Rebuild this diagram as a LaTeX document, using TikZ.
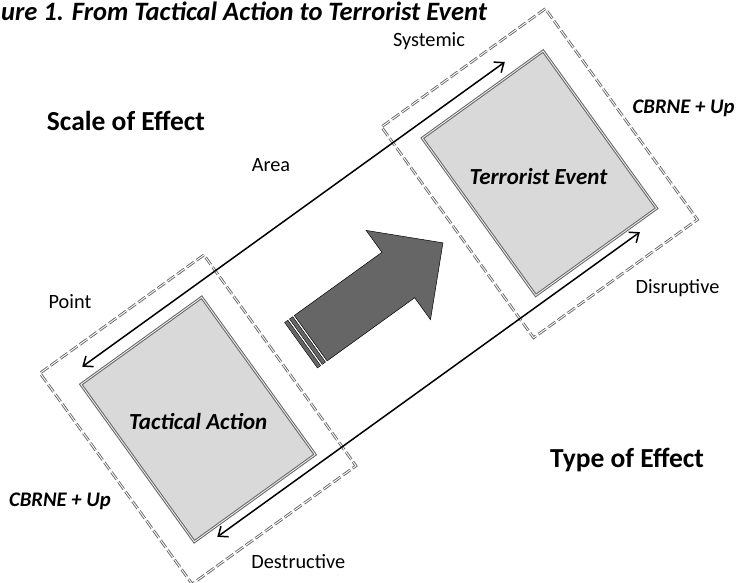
\documentclass[tikz,border=0pt]{standalone}
\usepackage{fontspec}
\setmainfont{Carlito}
\usepackage{tikz}
\usetikzlibrary{arrows.meta,positioning}

\begin{document}
\begin{tikzpicture}[x=1pt,y=1pt,
    box/.style={draw=black!60, double=white!92!black, double distance=0.9pt, line width=1pt,
                fill=black!15, minimum width=149pt, minimum height=194pt,
                inner sep=0pt, transform shape},
    dashframe/.style={draw=black!60, dash pattern=on 9pt off 3pt, double=white,
                  double distance=0.9pt, line width=0.9pt, minimum width=202pt,
                  minimum height=260pt, inner sep=0pt, transform shape},
    scaleline/.style={line width=1.5pt, {Straight Barb[length=8pt,width=13pt]}-{Straight Barb[length=8pt,width=13pt]}},
    lbl/.style={font=\fontsize{20.3}{24}\selectfont, anchor=base},
    boxtext/.style={font=\fontsize{23}{27}\selectfont\bfseries\itshape, anchor=base},
    headtext/.style={font=\fontsize{27.5}{32}\selectfont\bfseries, anchor=base}]

  \useasboundingbox (0,0) rectangle (740,583);

  \node[boxtext, font=\fontsize{26.5}{30}\selectfont\bfseries\itshape, anchor=base west,
        inner sep=0pt] (title) at (1,562.6) {ure 1. From Tactical Action to Terrorist Event};

  % the tilted part
  \begin{scope}[shift={(198,163.5)}, rotate=35.8]
    \node[dashframe] (tframe) at (0,0) {};
    \node[dashframe] (eframe) at (421,0) {};

    \coordinate (pointEnd) at (-63,110.5);
    \coordinate (systemicEnd) at (458,110.5);
    \coordinate (destructiveEnd) at (-53,-106.5);
    \coordinate (disruptiveEnd) at (468,-106.5);
    \draw[scaleline] (pointEnd) -- (systemicEnd);
    \draw[scaleline] (destructiveEnd) -- (disruptiveEnd);

    \node[box] (tactical) at (0,0) {};
    \node[box] (event) at (421,0) {};

    % big arrow
    \draw[fill=black!60, line width=0.5pt]
      (139,28) -- (247,28) -- (247,55) -- (302,0) -- (247,-55)
      -- (247,-28) -- (139,-28) -- cycle;
    \foreach \u in {133,127}
      \draw[fill=black!60, line width=0.4pt] (\u,-28) rectangle (\u+4,28);
  \end{scope}

  \node[boxtext] (tacticalText) at (198.3,153) {Tactical Action};
  \node[boxtext] (eventText) at (538.5,398) {Terrorist Event};
  \node[boxtext, font=\fontsize{20.7}{24}\selectfont\bfseries\itshape] (cbrneLeft) at (60,76.3) {CBRNE + Up};
  \node[boxtext, font=\fontsize{20.7}{24}\selectfont\bfseries\itshape, anchor=base east]
       (cbrneRight) at (738,469.7) {CBRNE + Up};

  \node[headtext] (scale) at (126,452.3) {Scale of Effect};
  \node[headtext] (type) at (627,115.7) {Type of Effect};

  \node[lbl] (systemic) at (429,536.3) {Systemic};
  \node[lbl] (area) at (271,411.3) {Area};
  \node[lbl] (point) at (70,274.7) {Point};
  \node[lbl] (disruptive) at (677.5,289.7) {Disruptive};
  \node[lbl] (destructive) at (298.3,14.7) {Destructive};
\end{tikzpicture}
\end{document}
